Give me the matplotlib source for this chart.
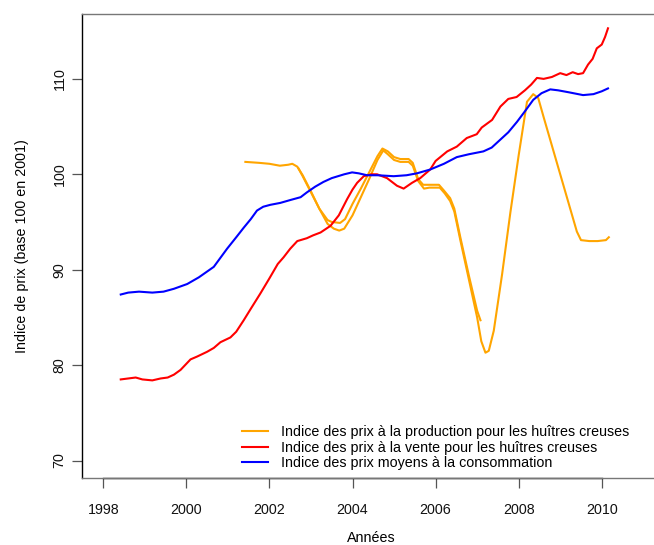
import matplotlib
matplotlib.use("Agg")
import matplotlib.pyplot as plt
import matplotlib.transforms as mtransforms

plt.rcParams["font.family"] = ["Liberation Sans", "DejaVu Sans"]

# indice des prix moyens a la consommation
conso_years = [1998.42, 1998.6, 1998.86, 1999.18, 1999.45, 1999.7, 2000.02, 2000.3,
               2000.66, 2000.98, 2001.2, 2001.38, 2001.55, 2001.7, 2001.85, 2002.02,
               2002.26, 2002.5, 2002.75, 2002.9, 2003.1, 2003.3, 2003.5, 2003.65,
               2003.8, 2003.99, 2004.15, 2004.35, 2004.6, 2004.99, 2005.3, 2005.55,
               2005.87, 2006.2, 2006.51, 2006.8, 2007.15, 2007.35, 2007.55, 2007.75,
               2007.96, 2008.15, 2008.35, 2008.55, 2008.76, 2008.95, 2009.2, 2009.55,
               2009.8, 2010.0, 2010.15]
conso = [87.4, 87.6, 87.7, 87.6, 87.7, 88.0, 88.5, 89.2,
         90.3, 92.2, 93.4, 94.4, 95.3, 96.2, 96.6, 96.8,
         97.0, 97.3, 97.6, 98.1, 98.7, 99.2, 99.6, 99.8,
         100.0, 100.2, 100.1, 99.9, 99.9, 99.8, 99.9, 100.1,
         100.5, 101.1, 101.8, 102.1, 102.4, 102.8, 103.6, 104.4,
         105.5, 106.6, 107.8, 108.5, 108.9, 108.8, 108.6, 108.3,
         108.4, 108.7, 109.0]

# indice des prix a la vente
vente_years = [1998.42, 1998.6, 1998.78, 1998.94, 1999.18, 1999.38, 1999.55, 1999.7,
               1999.86, 2000.1, 2000.26, 2000.5, 2000.66, 2000.82, 2001.06, 2001.2,
               2001.38, 2001.55, 2001.78, 2002.0, 2002.2, 2002.34, 2002.5, 2002.67,
               2002.9, 2003.05, 2003.23, 2003.47, 2003.67, 2003.87, 2004.0, 2004.11,
               2004.27, 2004.45, 2004.59, 2004.83, 2005.07, 2005.23, 2005.43, 2005.63,
               2005.87, 2006.0, 2006.28, 2006.51, 2006.75, 2006.99, 2007.11, 2007.36,
               2007.56, 2007.75, 2007.95, 2008.15, 2008.3, 2008.44, 2008.6, 2008.8,
               2009.0, 2009.15, 2009.3, 2009.43, 2009.55, 2009.67, 2009.78, 2009.88,
               2010.0, 2010.08, 2010.15]
vente = [78.5, 78.6, 78.7, 78.5, 78.4, 78.6, 78.7, 79.0,
         79.5, 80.6, 80.9, 81.4, 81.8, 82.4, 82.9, 83.5,
         84.7, 85.9, 87.5, 89.1, 90.6, 91.3, 92.2, 93.0,
         93.3, 93.6, 93.9, 94.6, 95.7, 97.4, 98.4, 99.1,
         99.8, 100.0, 100.0, 99.6, 98.8, 98.5, 99.1, 99.6,
         100.5, 101.4, 102.4, 102.9, 103.8, 104.2, 104.9, 105.7,
         107.1, 107.9, 108.1, 108.8, 109.4, 110.1, 110.0, 110.2,
         110.6, 110.4, 110.7, 110.5, 110.6, 111.5, 112.1, 113.2,
         113.6, 114.4, 115.3]

# indice des prix a la production (serie complete)
prod_years = [2001.42, 2001.75, 2002.0, 2002.25, 2002.45, 2002.55, 2002.67, 2002.8,
              2003.0, 2003.2, 2003.4, 2003.55, 2003.68, 2003.8, 2004.0, 2004.2,
              2004.4, 2004.6, 2004.74, 2004.85, 2005.0, 2005.15, 2005.35, 2005.45,
              2005.58, 2005.72, 2005.85, 2006.1, 2006.22, 2006.35, 2006.45, 2006.6,
              2006.8, 2007.0, 2007.1, 2007.2, 2007.28, 2007.4, 2007.6, 2007.8,
              2008.0, 2008.2, 2008.35, 2008.47, 2008.6, 2008.8, 2009.0, 2009.2,
              2009.4, 2009.5, 2009.7, 2009.9, 2010.1, 2010.17]
prod = [101.3, 101.2, 101.1, 100.9, 101.0, 101.1, 100.8, 99.9,
        98.2, 96.4, 94.8, 94.3, 94.1, 94.3, 95.7, 97.6,
        99.5, 101.5, 102.5, 102.1, 101.5, 101.3, 101.3, 100.9,
        99.3, 98.5, 98.6, 98.6, 98.0, 97.2, 96.1, 93.0,
        89.0, 85.0, 82.5, 81.3, 81.5, 83.6, 89.5, 96.0,
        102.0, 107.6, 108.4, 108.0, 106.0, 103.0, 100.0, 97.0,
        94.0, 93.1, 93.0, 93.0, 93.1, 93.4]

# seconde courbe de production (partielle, superposee)
prod2_years = [2002.7, 2002.8, 2003.0, 2003.2, 2003.4, 2003.5, 2003.7, 2003.82,
               2004.0, 2004.2, 2004.4, 2004.6, 2004.72, 2004.85, 2005.0, 2005.15,
               2005.35, 2005.45, 2005.58, 2005.7, 2005.85, 2006.08, 2006.2, 2006.35,
               2006.45, 2006.6, 2006.8, 2007.0, 2007.08]
prod2 = [100.6, 99.8, 98.1, 96.4, 95.2, 95.0, 94.9, 95.3,
         96.9, 98.5, 100.2, 101.9, 102.7, 102.4, 101.8, 101.6,
         101.6, 101.2, 99.5, 98.9, 98.9, 98.9, 98.3, 97.5,
         96.4, 93.3, 89.4, 85.7, 84.7]

labels = ["Indice des prix à la production pour les huîtres creuses",
          "Indice des prix à la vente pour les huîtres creuses",
          "Indice des prix moyens à la consommation"]

fs = 10.3

fig = plt.figure(figsize=(6.54, 5.45), dpi=100)
ax = fig.add_axes([81.7 / 654, 67.3 / 545, 583.2 / 654, 463.7 / 545])

lw = 1.5
ax.plot(prod_years, prod, color="orange", lw=lw, label=labels[0])
ax.plot(prod2_years, prod2, color="orange", lw=lw)
ax.plot(vente_years, vente, color="red", lw=lw, label=labels[1])
ax.plot(conso_years, conso, color="blue", lw=lw, label=labels[2])

ax.set_xlim(1997.48, 2011.52)
ax.set_ylim(68.2, 116.8)
ax.set_xticks(range(1998, 2011, 2))
ax.set_yticks(range(70, 111, 10))
ax.tick_params(axis="both", direction="out", length=7, width=0.9, color="#555555",
               labelsize=fs, labelcolor="#111111")
ax.tick_params(axis="x", pad=11)
ax.tick_params(axis="y", pad=4)
for lab in ax.get_yticklabels():
    lab.set_rotation(90)
    lab.set_va("center")

ax.spines["right"].set_visible(False)
ax.spines["top"].set_color("#777777")
ax.spines["bottom"].set_color("#777777")
ax.spines["left"].set_color("black")
for s in ax.spines.values():
    s.set_linewidth(1.0)
# ligne d'axe noire entre le premier et le dernier tick (style R)
trans = mtransforms.blended_transform_factory(ax.transData, ax.transAxes)
ax.plot([1998, 2010], [0, 0], color="black", lw=1.0, transform=trans, clip_on=False)

ax.set_xlabel("Années", fontsize=fs)
ax.set_ylabel("Indice de prix (base 100 en 2001)", fontsize=fs)
ax.xaxis.set_label_coords(0.497, -0.116)
ax.yaxis.set_label_coords(-0.091, 0.5)

ax.legend(loc="upper left", bbox_to_anchor=(241.7 / 654, 1 - 425 / 545),
          bbox_transform=fig.transFigure, frameon=False, fontsize=fs,
          handlelength=1.85, handletextpad=0.88, labelspacing=0.12,
          borderpad=0, borderaxespad=0)

fig.savefig("out.png", dpi=100)
